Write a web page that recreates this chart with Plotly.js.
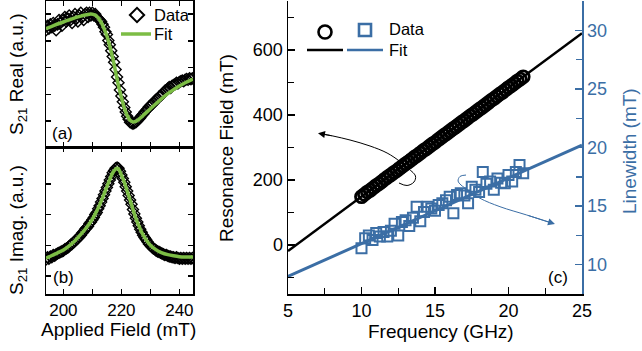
<!DOCTYPE html>
<html><head><meta charset="utf-8">
<script src="https://cdn.plot.ly/plotly-3.0.1.min.js"></script>
<style>html,body{margin:0;padding:0;background:#fff}#chart{width:642px;height:351px}</style>
</head><body><div id="chart"></div>
<script>
// ---- panel (a)/(b): S21 vs applied field ----
const field = [194.0,194.5,195.0,195.5,196.0,196.5,197.0,197.5,198.0,198.5,199.0,199.5,200.0,200.5,201.0,201.5,202.0,202.5,203.0,203.5,204.0,204.5,205.0,205.5,206.0,206.5,207.0,207.5,208.0,208.5,209.0,209.5,210.0,210.5,211.0,211.5,212.0,212.5,213.0,213.5,214.0,214.5,215.0,215.5,216.0,216.5,217.0,217.5,218.0,218.5,219.0,219.5,220.0,220.5,221.0,221.5,222.0,222.5,223.0,223.5,224.0,224.5,225.0,225.5,226.0,226.5,227.0,227.5,228.0,228.5,229.0,229.5,230.0,230.5,231.0,231.5,232.0,232.5,233.0,233.5,234.0,234.5,235.0,235.5,236.0,236.5,237.0,237.5,238.0,238.5,239.0,239.5,240.0,240.5,241.0,241.5,242.0,242.5,243.0,243.5,244.0,244.5];
const realData = [0.80,0.83,0.81,0.84,0.82,0.85,0.83,0.80,0.84,0.87,0.85,0.83,0.87,0.89,0.86,0.88,0.90,0.87,0.85,0.89,0.91,0.88,0.86,0.90,0.92,0.89,0.87,0.91,0.92,0.89,0.92,0.90,0.92,0.90,0.91,0.89,0.88,0.87,0.86,0.84,0.82,0.79,0.77,0.73,0.70,0.66,0.62,0.58,0.53,0.48,0.44,0.39,0.35,0.31,0.27,0.24,0.21,0.19,0.17,0.165,0.16,0.165,0.17,0.18,0.19,0.20,0.215,0.225,0.24,0.25,0.26,0.275,0.285,0.29,0.30,0.315,0.325,0.33,0.345,0.35,0.36,0.37,0.385,0.39,0.40,0.41,0.405,0.42,0.425,0.43,0.44,0.435,0.445,0.45,0.455,0.45,0.46,0.465,0.46,0.47,0.465,0.47];
const imagData = [0.235,0.25,0.24,0.255,0.25,0.265,0.26,0.27,0.275,0.28,0.285,0.29,0.295,0.305,0.31,0.315,0.325,0.335,0.34,0.35,0.36,0.37,0.38,0.39,0.40,0.415,0.425,0.44,0.45,0.46,0.48,0.49,0.505,0.52,0.54,0.555,0.58,0.60,0.625,0.65,0.675,0.70,0.725,0.75,0.775,0.80,0.825,0.84,0.855,0.86,0.855,0.835,0.81,0.785,0.76,0.73,0.70,0.67,0.64,0.61,0.575,0.545,0.515,0.49,0.465,0.44,0.42,0.40,0.385,0.37,0.355,0.34,0.33,0.32,0.31,0.305,0.295,0.29,0.285,0.28,0.275,0.27,0.265,0.265,0.26,0.255,0.255,0.25,0.25,0.245,0.25,0.245,0.24,0.245,0.24,0.245,0.24,0.245,0.24,0.245,0.24,0.245];
const fitFieldReal = [194,197,200,203,206,208,209.5,211,212,213,214,215,216,217,218,219,220,221,222,223,224,225,226,228,230,232,234,236,238,240,242,244.7];
const fitReal = [0.81,0.835,0.856,0.878,0.896,0.906,0.911,0.903,0.885,0.855,0.812,0.760,0.690,0.610,0.515,0.420,0.340,0.268,0.215,0.183,0.172,0.176,0.190,0.225,0.262,0.298,0.333,0.365,0.393,0.418,0.440,0.465];
const fitFieldImag = [194,196,198,200,202,204,206,208,210,212,214,216,217,218,218.5,219,220,221,222,223,224,225,226,227,228,229,230,232,234,236,238,240,242,244.7];
const fitImag = [0.243,0.262,0.280,0.300,0.328,0.363,0.405,0.452,0.510,0.585,0.680,0.780,0.825,0.850,0.855,0.850,0.810,0.760,0.700,0.639,0.575,0.515,0.465,0.420,0.385,0.355,0.332,0.300,0.280,0.268,0.260,0.254,0.252,0.252];
const fieldTicks = [200,210,220,230,240];
const fieldTickText = ['200','','220','','240'];
const realTicks = [0.178,0.361,0.544,0.727,0.910];
const imagTicks = [0.122,0.331,0.540,0.749];

// ---- panel (c): resonance field & linewidth vs frequency ----
const freqRes = [10.0,10.2,10.4,10.6,10.8,11.0,11.2,11.4,11.6,11.8,12.0,12.2,12.4,12.6,12.8,13.0,13.2,13.4,13.6,13.8,14.0,14.2,14.4,14.6,14.8,15.0,15.2,15.4,15.6,15.8,16.0,16.2,16.4,16.6,16.8,17.0,17.2,17.4,17.6,17.8,18.0,18.2,18.4,18.6,18.8,19.0,19.2,19.4,19.6,19.8,20.0,20.2,20.4,20.6,20.8,21.0];
const resField = [149,156,163,169,176,183,189,196,203,210,216,223,229,236,243,250,256,263,270,276,283,290,296,303,310,316,323,330,337,343,350,357,363,370,377,383,390,397,403,410,417,423,430,437,444,450,457,464,470,477,484,490,497,504,510,517];
const freqLw = [10.00,10.25,10.50,10.75,11.00,11.25,11.50,11.75,12.00,12.25,12.50,12.75,13.00,13.25,13.50,13.75,14.00,14.25,14.50,14.75,15.00,15.25,15.50,15.75,16.00,16.25,16.50,16.75,17.00,17.25,17.50,17.75,18.00,18.25,18.50,18.75,19.00,19.25,19.50,19.75,20.00,20.25,20.50,20.75,21.00];
const linewidth = [11.4,12.25,12.5,12.1,12.7,12.4,12.8,12.4,12.9,13.5,12.5,13.65,13.8,13.3,14.0,14.95,13.7,14.5,14.95,14.8,14.6,15.1,15.25,15.5,15.8,14.4,15.95,16.1,15.9,15.25,16.65,16.4,16.2,17.9,16.9,17.1,16.4,17.35,17.0,16.95,17.65,17.1,17.9,18.5,17.8];
const fitFreq = [5, 25];
const fitResField = [-18, 651];
const fitLinewidth = [9.0, 20.2];
const freqTicks = [5,10,15,20,25];

// annotation arrows (curved pointers), in data coordinates of panel (c)
const arrowBlackF = [12.55,13.10,13.57,13.67,13.10,12.62,11.74,10.58,9.22,8.06,7.18];
const arrowBlackH = [190.9,183.3,194.0,212.5,238.6,257.0,283.1,304.6,323.0,335.3,343.0];
const arrowBlueF = [17.11,16.70,16.57,16.77,17.25,18.06,19.42,21.24,23.03];
const arrowBlueW = [17.65,17.53,17.14,16.80,16.37,15.67,14.95,14.24,13.52];

const W = 642, H = 351;
const px = v => v / W;
const py = v => 1 - v / H;
const FONT = 'Liberation Sans, Arial, Helvetica, sans-serif';
const BLUE = '#3b6ea5';
const GREEN = '#7cbd45';
const BLACK = '#000000';

const dxL = [px(46), px(193)];
const dyA = [py(147), py(1)];
const dyB = [py(294), py(147)];
const dxR = [px(288), px(582)];
const dyR = [py(294), py(1)];

const baseAx = {
  showgrid: false, zeroline: false, showline: true, linewidth: 1.5, linecolor: BLACK,
  ticks: 'inside', tickwidth: 1.4, tickcolor: BLACK, ticklen: 5,
  tickfont: {family: FONT, size: 17, color: BLACK}
};

const traces = [
  {x: field, y: realData, xaxis: 'x', yaxis: 'y', mode: 'markers', type: 'scatter',
   marker: {symbol: 'diamond-open', size: 8.5, color: BLACK, line: {width: 1.4, color: BLACK}}},
  {x: fitFieldReal, y: fitReal, xaxis: 'x', yaxis: 'y', mode: 'lines', type: 'scatter',
   line: {color: GREEN, width: 3.5, shape: 'spline'}},
  {x: field, y: imagData, xaxis: 'x2', yaxis: 'y2', mode: 'markers', type: 'scatter',
   marker: {symbol: 'diamond-open', size: 8.5, color: BLACK, line: {width: 1.4, color: BLACK}}},
  {x: fitFieldImag, y: fitImag, xaxis: 'x2', yaxis: 'y2', mode: 'lines', type: 'scatter',
   line: {color: GREEN, width: 3.5, shape: 'spline'}},
  {x: freqRes, y: resField, xaxis: 'x3', yaxis: 'y3', mode: 'markers', type: 'scatter',
   marker: {symbol: 'circle-open', size: 12, color: BLACK, line: {width: 2.8, color: BLACK}}},
  {x: fitFreq, y: fitResField, xaxis: 'x3', yaxis: 'y3', mode: 'lines', type: 'scatter',
   line: {color: BLACK, width: 2.5}},
  {x: arrowBlackF, y: arrowBlackH, xaxis: 'x3', yaxis: 'y3', mode: 'lines', type: 'scatter',
   line: {color: BLACK, width: 1, shape: 'spline'}},
  {x: freqLw, y: linewidth, xaxis: 'x3', yaxis: 'y4', mode: 'markers', type: 'scatter',
   marker: {symbol: 'square-open', size: 10, color: BLUE, line: {width: 2, color: BLUE}}},
  {x: fitFreq, y: fitLinewidth, xaxis: 'x3', yaxis: 'y4', mode: 'lines', type: 'scatter',
   line: {color: BLUE, width: 3}},
  {x: arrowBlueF, y: arrowBlueW, xaxis: 'x3', yaxis: 'y4', mode: 'lines', type: 'scatter',
   line: {color: BLUE, width: 1, shape: 'spline'}},
  // legend glyphs (overlay axes in pixel units)
  {x: [137], y: [15], xaxis: 'x5', yaxis: 'y5', mode: 'markers', type: 'scatter', cliponaxis: false,
   marker: {symbol: 'diamond-open', size: 11, color: BLACK, line: {width: 2, color: BLACK}}},
  {x: [121, 151], y: [34, 34], xaxis: 'x5', yaxis: 'y5', mode: 'lines', type: 'scatter',
   line: {color: GREEN, width: 3.5}},
  {x: [325], y: [32], xaxis: 'x5', yaxis: 'y5', mode: 'markers', type: 'scatter', cliponaxis: false,
   marker: {symbol: 'circle-open', size: 13, color: BLACK, line: {width: 2.6, color: BLACK}}},
  {x: [365], y: [30], xaxis: 'x5', yaxis: 'y5', mode: 'markers', type: 'scatter', cliponaxis: false,
   marker: {symbol: 'square-open', size: 12, color: BLUE, line: {width: 2.6, color: BLUE}}},
  {x: [307, 343], y: [50, 50], xaxis: 'x5', yaxis: 'y5', mode: 'lines', type: 'scatter',
   line: {color: BLACK, width: 2.5}},
  {x: [347, 383], y: [50, 50], xaxis: 'x5', yaxis: 'y5', mode: 'lines', type: 'scatter',
   line: {color: BLUE, width: 2.5}}
];

const txt = (text, x, y, opts = {}) => Object.assign({
  text, x: px(x), y: py(y), xref: 'paper', yref: 'paper', showarrow: false,
  xanchor: 'center', yanchor: 'middle', font: {family: FONT, size: 17, color: BLACK}
}, opts);

const annotations = [
  txt('S<sub>21</sub> Real (a.u.)', 18, 75, {textangle: -90, font: {family: FONT, size: 19, color: BLACK}}),
  txt('S<sub>21</sub> Imag. (a.u.)', 18, 230, {textangle: -90, font: {family: FONT, size: 19, color: BLACK}}),
  txt('Applied Field (mT)', 118, 329, {font: {family: FONT, size: 19, color: BLACK}}),
  txt('Frequency (GHz)', 441, 331, {font: {family: FONT, size: 19, color: BLACK}}),
  txt('Resonance Field (mT)', 226, 148, {textangle: -90, font: {family: FONT, size: 19, color: BLACK}}),
  txt('Linewidth (mT)', 629, 151, {textangle: -90, font: {family: FONT, size: 19, color: BLUE}}),
  txt('(a)', 62, 133),
  txt('(b)', 63, 277),
  txt('(c)', 558, 277),
  txt('Data', 152, 15, {xanchor: 'left', font: {family: FONT, size: 16.5, color: BLACK}}),
  txt('Fit', 152, 34, {xanchor: 'left', font: {family: FONT, size: 16.5, color: BLACK}}),
  txt('Data', 387, 29, {xanchor: 'left', font: {family: FONT, size: 16.5, color: BLACK}}),
  txt('Fit', 387, 50, {xanchor: 'left', font: {family: FONT, size: 16.5, color: BLACK}}),
  {x: 7.04, y: 343.6, xref: 'x3', yref: 'y3', ax: 8.06, ay: 335.3, axref: 'x3', ayref: 'y3',
   text: '', showarrow: true, arrowhead: 2, arrowsize: 1.4, arrowwidth: 1, arrowcolor: BLACK},
  {x: 23.16, y: 13.47, xref: 'x3', yref: 'y4', ax: 21.24, ay: 14.24, axref: 'x3', ayref: 'y4',
   text: '', showarrow: true, arrowhead: 2, arrowsize: 1.4, arrowwidth: 1, arrowcolor: BLUE}
];

const layout = {
  width: W, height: H, margin: {l: 0, r: 0, t: 0, b: 0},
  paper_bgcolor: '#ffffff', plot_bgcolor: 'rgba(0,0,0,0)',
  showlegend: false, font: {family: FONT, color: BLACK},
  xaxis: Object.assign({}, baseAx, {domain: dxL, anchor: 'y', range: [194, 244.7], tickvals: fieldTicks,
    showticklabels: false, mirror: 'ticks'}),
  yaxis: Object.assign({}, baseAx, {domain: dyA, anchor: 'x', range: [0, 1], tickvals: realTicks,
    showticklabels: false, mirror: 'ticks'}),
  xaxis2: Object.assign({}, baseAx, {domain: dxL, anchor: 'y2', range: [194, 244.7], tickvals: fieldTicks,
    ticktext: fieldTickText, mirror: 'ticks'}),
  yaxis2: Object.assign({}, baseAx, {domain: dyB, anchor: 'x2', range: [0, 1], tickvals: imagTicks,
    showticklabels: false, mirror: 'ticks'}),
  xaxis3: Object.assign({}, baseAx, {domain: dxR, anchor: 'y3', range: [5, 25], tickvals: freqTicks,
    ticklen: 7, tickfont: {family: FONT, size: 18, color: BLACK},
    minor: {dtick: 2.5, tick0: 5, ticks: 'inside', ticklen: 6, tickwidth: 1.4, tickcolor: BLACK}}),
  yaxis3: Object.assign({}, baseAx, {domain: dyR, anchor: 'x3', range: [-150, 750], tick0: 0, dtick: 200,
    ticklen: 7, tickfont: {family: FONT, size: 18, color: BLACK},
    minor: {dtick: 100, tick0: 0, ticks: 'inside', ticklen: 6, tickwidth: 1.4, tickcolor: BLACK}}),
  yaxis4: Object.assign({}, baseAx, {overlaying: 'y3', side: 'right', anchor: 'x3', range: [7.5, 32.5],
    tick0: 10, dtick: 5, ticklen: 7, linecolor: BLUE, tickcolor: BLUE,
    tickfont: {family: FONT, size: 18, color: BLUE},
    minor: {dtick: 2.5, tick0: 10, ticks: 'inside', ticklen: 6, tickwidth: 1.4, tickcolor: BLUE}}),
  xaxis4: Object.assign({}, baseAx, {overlaying: 'x3', side: 'top', anchor: 'y3', range: [5, 25],
    tick0: 5, dtick: 2.5, ticklen: 6, showticklabels: false, linecolor: BLUE, tickcolor: BLUE}),
  xaxis5: {domain: [0, 1], anchor: 'y5', range: [0, W], visible: false, fixedrange: true},
  yaxis5: {domain: [0, 1], anchor: 'x5', range: [H, 0], visible: false, fixedrange: true},
  annotations
};

Plotly.newPlot('chart', traces, layout, {staticPlot: true, displayModeBar: false});
</script></body></html>
